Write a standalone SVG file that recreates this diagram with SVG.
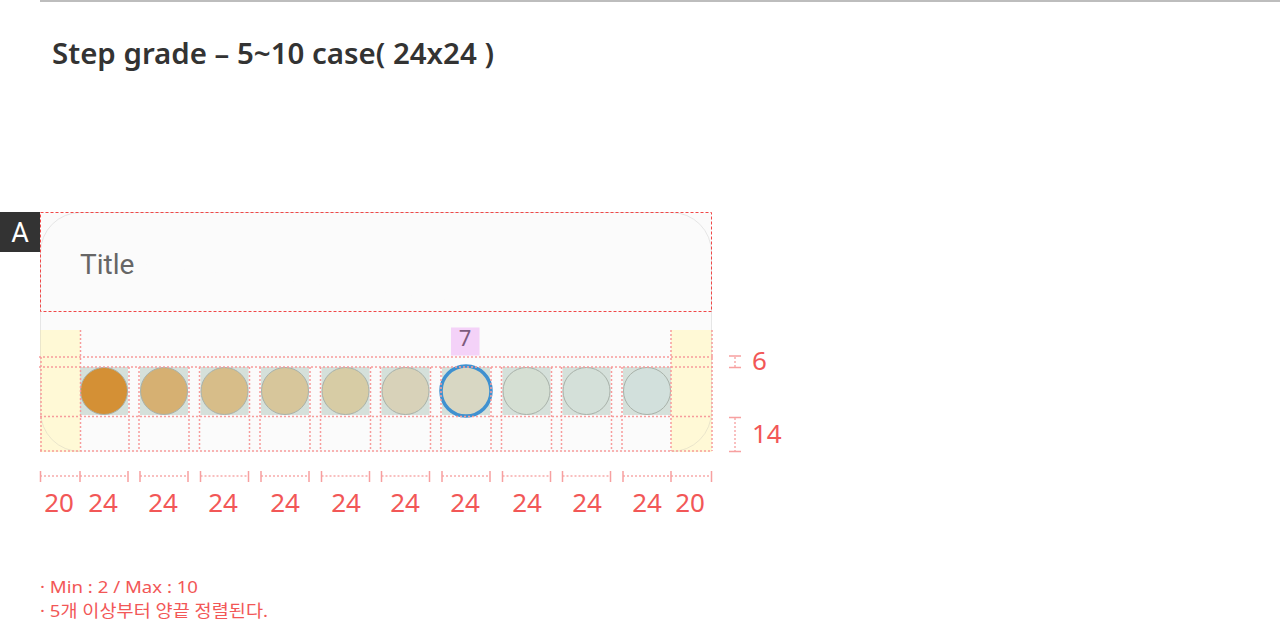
<svg xmlns="http://www.w3.org/2000/svg" width="1280" height="624" viewBox="0 0 1280 624">
<defs>
<style>
.dot{stroke:#f79c9c;stroke-width:1.5;stroke-dasharray:2 2;fill:none}
.dim{stroke:#f7aaaa;stroke-width:1.5;stroke-dasharray:2 2;fill:none}
.tick{stroke:#f7a0a0;stroke-width:1.5;fill:none}
.num{font-family:"Noto Sans","DejaVu Sans",sans-serif;font-size:26px;fill:#f25757}
.note{font-family:"Noto Sans","Noto Sans CJK KR",sans-serif;font-size:17px;fill:#f25757}
.cellbg{fill:#d5e0da}
.circ{stroke:#a9b2aa;stroke-width:1}
</style>
</defs>
<rect width="1280" height="624" fill="#ffffff"/>
<line x1="40" y1="1" x2="1280" y2="1" stroke="#bdbdbd" stroke-width="2"/>
<text x="52" y="64" font-family="'Noto Sans','DejaVu Sans',sans-serif" font-weight="600" font-size="29" fill="#333333" textLength="442" lengthAdjust="spacingAndGlyphs">Step grade – 5~10 case( 24x24 )</text>

<g id="label-a">
<rect x="0" y="212" width="40" height="40" fill="#333333"/>
<text x="20" y="242" text-anchor="middle" font-family="Roboto,'Liberation Sans',sans-serif" font-size="27" fill="#ffffff">A</text>
</g>

<g id="card">
<rect x="40" y="330" width="40" height="122" fill="#fff9d6"/>
<rect x="671" y="330" width="41" height="122" fill="#fff9d6"/>
<rect x="40.5" y="212.5" width="671" height="117.5" fill="#fbfbfb"/>
<path d="M40.5,252.5 A40,40 0 0 1 80.5,212.5 H671.5 A40,40 0 0 1 711.5,252.5 V330" fill="#fbfbfb" stroke="#e6e6e6" stroke-width="1"/>
<path d="M40.5,252.5 V330" stroke="#e6e6e6" stroke-width="1"/>
<rect x="80" y="330" width="591" height="122" fill="#fbfbfb"/>
<path d="M40.5,330 V411.5 A40,40 0 0 0 80.5,451.5 M671.5,451.5 A40,40 0 0 0 711.5,411.5 V330" fill="none" stroke="#ebe6cc" stroke-width="1"/>
</g>

<g id="title-area">
<rect x="40.5" y="212.5" width="671" height="99" fill="none" stroke="#f04848" stroke-width="1" stroke-dasharray="3 2"/>
<text x="80" y="274" font-family="Roboto,'Liberation Sans',sans-serif" font-size="28" fill="#666666">Title</text>
</g>

<g id="step-count">
<rect x="451" y="327.5" width="28.5" height="28" fill="#f4d2f8"/>
<text x="465" y="346" text-anchor="middle" font-family="'Noto Sans','DejaVu Sans',sans-serif" font-size="22" fill="#7d5b7d">7</text>
</g>

<g id="steps">
<rect class="cellbg" x="80" y="367" width="48" height="48"/>
<rect class="cellbg" x="140" y="367" width="48" height="48"/>
<rect class="cellbg" x="200.5" y="367" width="48" height="48"/>
<rect class="cellbg" x="261" y="367" width="48" height="48"/>
<rect class="cellbg" x="321.5" y="367" width="48" height="48"/>
<rect class="cellbg" x="381.5" y="367" width="48" height="48"/>
<rect class="cellbg" x="442" y="367" width="48" height="48"/>
<rect class="cellbg" x="502.5" y="367" width="48" height="48"/>
<rect class="cellbg" x="562.5" y="367" width="48" height="48"/>
<rect class="cellbg" x="623" y="367" width="48" height="48"/>
<circle class="circ" cx="104" cy="391" r="23.5" fill="#d49035"/>
<circle class="circ" cx="164" cy="391" r="23.5" fill="#d6b072"/>
<circle class="circ" cx="224.5" cy="391" r="23.5" fill="#d7bd89"/>
<circle class="circ" cx="285" cy="391" r="23.5" fill="#d7c69b"/>
<circle class="circ" cx="345.5" cy="391" r="23.5" fill="#d7cca5"/>
<circle class="circ" cx="405.5" cy="391" r="23.5" fill="#d8d2b9"/>
<circle cx="466" cy="391" r="25" fill="#d8d7c3" stroke="#3f91d0" stroke-width="3.5"/>
<circle class="circ" cx="526.5" cy="391" r="23.5" fill="#d5dfd3"/>
<circle class="circ" cx="586.5" cy="391" r="23.5" fill="#d4e0d9"/>
<circle class="circ" cx="647" cy="391" r="23.5" fill="#d2e0dc"/>
</g>

<g id="guides">
<line class="dot" x1="39" y1="357" x2="713" y2="357"/>
<line class="dot" x1="39" y1="367" x2="713" y2="367"/>
<line class="dot" x1="40" y1="416.5" x2="712" y2="416.5"/>
<line class="dot" x1="40" y1="451" x2="712" y2="451"/>
<line class="dot" x1="41" y1="357" x2="41" y2="451"/>
<line class="dot" x1="80.5" y1="330" x2="80.5" y2="451"/>
<line class="dot" x1="671" y1="330" x2="671" y2="451"/>
<line class="dot" x1="712" y1="330" x2="712" y2="451"/>
<path class="dot" d="M129,367V451M139,367V451M189,367V451M199.5,367V451M249.5,367V451M260,367V451M310,367V451M320.5,367V451M370.5,367V451M380.5,367V451M430.5,367V451M441,367V451M491,367V451M501.5,367V451M551.5,367V451M561.5,367V451M611.5,367V451M622,367V451"/>
</g>

<g id="dimensions">
<path class="dim" d="M40,476H80M80,476H128M140,476H188M200.5,476H248.5M261,476H309M321.5,476H369.5M381.5,476H429.5M442,476H490M502.5,476H550.5M562.5,476H610.5M623,476H671M671,476H712"/>
<path class="tick" d="M40.5,471V482M80,471V482M128,471V482M140,471V482M188,471V482M200.5,471V482M248.5,471V482M261,471V482M309,471V482M321.5,471V482M369.5,471V482M381.5,471V482M429.5,471V482M442,471V482M490,471V482M502.5,471V482M550.5,471V482M562.5,471V482M610.5,471V482M623,471V482M671,471V482M711.5,471V482"/>
<g text-anchor="middle">
<text class="num" x="59" y="512">20</text>
<text class="num" x="103" y="512">24</text>
<text class="num" x="163" y="512">24</text>
<text class="num" x="223" y="512">24</text>
<text class="num" x="285" y="512">24</text>
<text class="num" x="346" y="512">24</text>
<text class="num" x="405" y="512">24</text>
<text class="num" x="465" y="512">24</text>
<text class="num" x="527" y="512">24</text>
<text class="num" x="587" y="512">24</text>
<text class="num" x="647" y="512">24</text>
<text class="num" x="690" y="512">20</text>
</g>
<path class="tick" d="M729,356H741M729,367.5H741M729,417.5H741M729,451.5H741"/>
<path class="dim" d="M735,357V367M735,418V451"/>
<text class="num" x="752" y="370">6</text>
<text class="num" x="752" y="443">14</text>
</g>

<g id="notes">
<text class="note" x="40" y="593" textLength="158" lengthAdjust="spacingAndGlyphs">· Min : 2 / Max : 10</text>
<text class="note" x="40" y="617" textLength="228" lengthAdjust="spacingAndGlyphs">· 5개 이상부터 양끝 정렬된다.</text>
</g>
</svg>
